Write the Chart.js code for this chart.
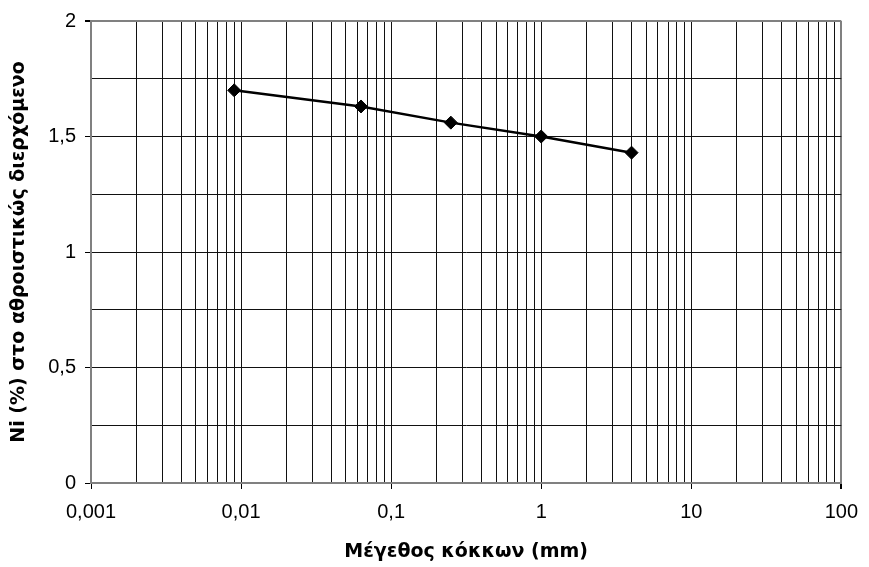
<!DOCTYPE html>
<html>
<head>
<meta charset="utf-8">
<script src="https://cdn.jsdelivr.net/npm/chart.js@4/dist/chart.umd.min.js"></script>
<style>
  html, body { margin: 0; padding: 0; background: #fff; }
  #wrap { width: 869px; height: 567px; }
</style>
</head>
<body>
<div id="wrap"><canvas id="c" width="869" height="567"></canvas></div>
<script>
// Grain size (mm) and cumulative passing Ni (%)
const grainSizes = [0.009, 0.063, 0.25, 1, 4];
const niPassing = [1.70, 1.63, 1.56, 1.50, 1.43];

// Axis ticks
const xDecades = [0.001, 0.01, 0.1, 1, 10, 100];
const xMinorMultiples = [2, 3, 4, 5, 6, 7, 8, 9];
const yMajorTicks = [0, 0.5, 1, 1.5, 2];
const yStep = 0.25;

const xTitle = 'Μέγεθος κόκκων (mm)';
const yTitle = 'Ni (%) στο αθροιστικώς διερχόμενο';

const fmt = v => String(v).replace('.', ',');
const isDecade = v => xDecades.some(d => Math.abs(d - v) / d < 1e-9);
const isYMajor = v => yMajorTicks.some(t => Math.abs(t - v) < 1e-9);

// full set of log grid values: every 1..9 multiple inside each decade
const xGridValues = [];
xDecades.forEach((d, i) => {
  xGridValues.push(d);
  if (i < xDecades.length - 1) {
    xMinorMultiples.forEach(m => xGridValues.push(Number((m * d).toPrecision(12))));
  }
});

Chart.defaults.font.family = '"Liberation Sans", Arial, sans-serif';
Chart.defaults.color = '#000';

const titleFont = { family: '"DejaVu Sans", Verdana, sans-serif', size: 19, weight: 'bold' };

new Chart(document.getElementById('c'), {
  type: 'scatter',
  data: {
    datasets: [{
      data: grainSizes.map((x, i) => ({ x, y: niPassing[i] })),
      showLine: true,
      borderColor: '#000',
      borderWidth: 2.5,
      backgroundColor: '#000',
      pointStyle: 'rectRot',
      pointRadius: 6.5,
      pointHoverRadius: 6.5,
      pointBorderWidth: 1,
      pointBackgroundColor: '#000',
      pointBorderColor: '#000',
      tension: 0
    }]
  },
  options: {
    responsive: false,
    devicePixelRatio: 1,
    animation: false,
    layout: { padding: { left: 0, right: 23, top: 19, bottom: 0 } },
    plugins: { legend: { display: false }, tooltip: { enabled: false } },
    scales: {
      x: {
        type: 'logarithmic',
        min: xDecades[0],
        max: xDecades[xDecades.length - 1],
        afterBuildTicks: s => { s.ticks = xGridValues.map(v => ({ value: v })); },
        afterFit: s => { s.height = 84; },
        border: { display: true, color: '#808080', width: 2 },
        grid: {
          color: c => (c.tick && c.tick.value === xDecades[xDecades.length - 1]) ? '#808080' : '#111',
          lineWidth: c => (c.tick && c.tick.value === xDecades[xDecades.length - 1]) ? 2 : 1,
          tickColor: c => (c.tick && isDecade(c.tick.value)) ? '#000' : 'rgba(0,0,0,0)',
          tickLength: 6,
          drawTicks: true
        },
        ticks: {
          autoSkip: false,
          maxRotation: 0,
          padding: 11,
          font: { size: 20 },
          callback: v => isDecade(v) ? fmt(v) : ''
        },
        title: {
          display: true,
          text: xTitle,
          font: titleFont,
          padding: { top: 0, bottom: 4 }
        }
      },
      y: {
        min: 0,
        max: 2,
        ticks: {
          stepSize: yStep,
          autoSkip: false,
          padding: 9,
          font: { size: 20 },
          callback: v => isYMajor(v) ? fmt(v) : ''
        },
        afterFit: s => { s.width = 91; },
        border: { display: true, color: '#808080', width: 2 },
        grid: {
          color: c => (c.tick && c.tick.value === 2) ? '#808080' : '#111',
          lineWidth: c => (c.tick && c.tick.value === 2) ? 2 : 1,
          tickColor: c => (c.tick && isYMajor(c.tick.value)) ? '#000' : 'rgba(0,0,0,0)',
          tickLength: 6
        },
        title: {
          display: true,
          text: yTitle,
          font: titleFont,
          padding: { top: 8, bottom: 0 }
        }
      }
    }
  }
});
</script>
</body>
</html>
